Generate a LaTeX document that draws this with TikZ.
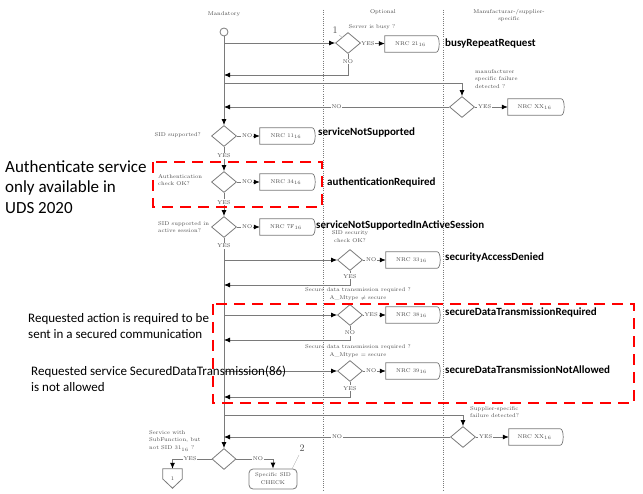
\documentclass[tikz,border=0pt]{standalone}
\usepackage{fontspec}
\newfontfamily\calib{Carlito}
\usetikzlibrary{shapes.geometric,arrows.meta,calc}
\definecolor{lg}{HTML}{7A7A7A}
\definecolor{tg}{HTML}{4A4A4A}
\definecolor{rd}{HTML}{FF0000}
\newcommand\nrcout[1]{\draw[draw=lg, line width=0.7pt] (#1.north west) -- (#1.north east) .. controls ([xshift=4pt]#1.north east) and ([xshift=4pt]#1.south east) .. (#1.south east) -- (#1.south west) -- cycle;}
\begin{document}
\begin{tikzpicture}[x=1pt,y=-1pt,
 ln/.style={draw=lg, line width=0.8pt},
 arr/.style={ln, -{Latex[length=6pt,width=5pt,color=black]}},
 dia/.style={diamond, draw=lg, line width=0.8pt, minimum width=25pt, minimum height=21pt, inner sep=0pt},
 nrc/.style={minimum width=51pt, minimum height=16pt, inner sep=0pt, font=\fontsize{5.5}{6}\selectfont, text=tg},
 sm/.style={font=\fontsize{5.5}{7.8}\selectfont, text=tg, inner sep=0pt},
 lab/.style={sm, fill=white, inner sep=0.8pt},
 big/.style={font=\calib\bfseries\fontsize{11}{13}\selectfont, anchor=west, inner sep=0pt},
 note/.style={font=\calib\fontsize{13}{16}\selectfont, anchor=north west, align=left, inner sep=0pt},
 redbox/.style={draw=rd, line width=2.6pt, dash pattern=on 11pt off 7pt},
 colline/.style={draw=lg, line width=0.6pt, dash pattern=on 1pt off 1.2pt},
 num/.style={font=\fontsize{10}{10}\selectfont, text=tg, inner sep=0pt},
]
\useasboundingbox (0,0) rectangle (643,494);
% column separators
\draw[colline] (323,10) -- (323,490);
\draw[colline] (443,10) -- (443,490);
% headers
\node[sm] (hm) at (224,14) {Mandatory};
\node[sm] (ho) at (383,12) {Optional};
\node[sm, align=center] (hs) at (509,15.5) {Manufacturar-/supplier-\\specific};
% start
\node[circle, draw=lg, line width=0.8pt, minimum size=8pt, inner sep=0pt] (start) at (224,32) {};
% server busy
\coordinate (m1) at (224,43);
\node[dia] (d1) at (348,43) {};
\node[nrc] (n21) at (410.5,44) {NRC 21$_{16}$};
\nrcout{n21}
\node[num] (one) at (335,30) {1};
\draw[lg!60, line width=0.4pt] (339,35) -- (343,38);
\node[sm] (t1) at (372,27) {Server is busy ?};
\draw[arr] (m1) -- (d1);
\draw[arr] (d1) -- node[lab, pos=0.3]{YES} (n21);
\node[big] (l1) at (445,44) {busyRepeatRequest};
\coordinate (c1) at (348,75);
\coordinate (m2) at (224,75);
\draw[arr] (d1.south) -- node[lab, pos=0.36]{NO} (c1) -- (m2);
% manufacturer specific
\coordinate (m3) at (224,83);
\coordinate (c2) at (462,83);
\node[dia] (d2) at (462,107) {};
\draw[arr] (m3) -- (c2) -- (d2.north);
\node[sm, align=left, anchor=north west] (t2) at (475,69) {manufacturer\\specific failure\\detected ?};
\node[nrc, minimum width=53pt] (nx1) at (534.5,107) {NRC XX$_{16}$};
\nrcout{nx1}
\draw[arr] (d2) -- node[lab, pos=0.3]{YES} (nx1);
\coordinate (m4) at (224,107);
\draw[arr] (d2) -- node[lab, pos=0.5]{NO} (m4);
% SID supported
\node[dia] (d3) at (224,136) {};
\draw[arr] (start) -- (d3);
\node[sm, anchor=east] (t3) at (201,135) {SID supported?};
\node[nrc, minimum width=52pt] (n11) at (286,136) {NRC 11$_{16}$};
\nrcout{n11}
\draw[arr] (d3) -- node[lab, pos=0.45]{NO} (n11);
\node[big] (l3) at (318,133) {serviceNotSupported};
% authentication
\node[dia] (d4) at (224,182) {};
\draw[arr] (d3) -- node[lab, pos=0.38]{YES} (d4);
\node[sm, align=left, anchor=west] (t4) at (158,180) {Authentication\\check OK?};
\node[nrc, minimum width=52pt] (n34) at (286,182) {NRC 34$_{16}$};
\nrcout{n34}
\draw[arr] (d4) -- node[lab, pos=0.45]{NO} (n34);
\node[big] (l4) at (327,182) {authenticationRequired};
% active session
\node[dia] (d5) at (224,227) {};
\draw[arr] (d4) -- node[lab, pos=0.4]{YES} (d5);
\node[sm, align=left, anchor=west] (t5) at (158,227) {SID supported in\\active session?};
\node[nrc, minimum width=52pt] (n7f) at (286,227) {NRC 7F$_{16}$};
\nrcout{n7f}
\draw[arr] (d5) -- node[lab, pos=0.45]{NO} (n7f);
\node[big] (l5) at (316,225) {serviceNotSupportedInActiveSession};
% main line to bottom
\node[dia, minimum width=24pt] (d10) at (224,459) {};
\draw[arr] (d5) -- (d10);
\node[lab] (y5) at (224,246) {YES};
% security
\coordinate (m5) at (224,260);
\node[dia] (d6) at (350,260) {};
\draw[arr] (m5) -- (d6);
\node[sm, align=center] (t6) at (350,237) {SID security\\check OK?};
\node[nrc] (n33) at (411.5,260) {NRC 33$_{16}$};
\nrcout{n33}
\draw[arr] (d6) -- node[lab, pos=0.36]{NO} (n33);
\node[big] (l6) at (445,258) {securityAccessDenied};
\coordinate (c3) at (350,285);
\coordinate (m6) at (224,285);
\draw[arr] (d6) -- node[lab, pos=0.38]{YES} (c3) -- (m6);
% secure required
\node[sm, align=center] (t7) at (358,294) {Secure data transmission required ?\\A\_Mtype $\neq$ secure};
\coordinate (m7) at (224,315);
\node[dia] (d7) at (350,315) {};
\draw[arr] (m7) -- (d7);
\node[nrc] (n38) at (411.5,315) {NRC 38$_{16}$};
\nrcout{n38}
\draw[arr] (d7) -- node[lab, pos=0.36]{YES} (n38);
\node[big] (l7) at (445,313) {secureDataTransmissionRequired};
\coordinate (c4) at (350,340);
\coordinate (m8) at (224,340);
\draw[arr] (d7) -- node[lab, pos=0.5]{NO} (c4) -- (m8);
% secure not allowed
\node[sm, align=center] (t8) at (358,351.5) {Secure data transmission required ?\\A\_Mtype = secure};
\coordinate (m9) at (224,371);
\node[dia] (d8) at (350,371) {};
\draw[arr] (m9) -- (d8);
\node[nrc] (n39) at (411.5,371) {NRC 39$_{16}$};
\nrcout{n39}
\draw[arr] (d8) -- node[lab, pos=0.36]{NO} (n39);
\node[big] (l8) at (445,370) {secureDataTransmissionNotAllowed};
\coordinate (c5) at (350,397);
\coordinate (m10) at (224,397);
\draw[arr] (d8) -- node[lab, pos=0.42]{YES} (c5) -- (m10);
% supplier specific
\coordinate (m11) at (224,415);
\coordinate (c6) at (463,415);
\node[dia] (d9) at (463,437) {};
\draw[arr] (m11) -- (c6) -- (d9.north);
\node[sm, align=left, anchor=north west] (t9) at (470,406) {Supplier-specific\\failure detected?};
\node[nrc] (nx2) at (534.5,437) {NRC XX$_{16}$};
\nrcout{nx2}
\draw[arr] (d9) -- node[lab, pos=0.3]{YES} (nx2);
\coordinate (m12) at (224,437);
\draw[arr] (d9) -- node[lab, pos=0.5]{NO} (m12);
% bottom decision
\node[sm, align=left, anchor=north west] (t10) at (149,430) {Service with\\SubFunction, but\\not SID 31$_{16}$ ?};
\node[sm, minimum width=19pt, minimum height=19pt] (p1) at (172.5,478.5) {1};
\draw[ln] (p1.north west) -- (p1.north east) -- ($(p1.east)+(0,0.5)$) -- (p1.south) -- ($(p1.west)+(0,0.5)$) -- cycle;
\coordinate (c7) at (172.5,459);
\draw[arr] (d10) -- node[lab, pos=0.55]{YES} (c7) -- (p1.north);
\node[sm, align=center, draw=lg, line width=0.8pt, rounded corners=4pt, minimum width=48pt, minimum height=20pt] (chk) at (273,479) {Specific SID\\CHECK};
\coordinate (c8) at (273,459);
\draw[arr] (d10) -- node[lab, pos=0.59]{NO} (c8) -- (chk);
\node[num] (two) at (302,448) {2};
\draw[lg!60, line width=0.4pt] (299,455) -- (292,469);
% red highlight boxes
\draw[redbox] (153,162) rectangle (322,207);
\draw[redbox] (213,304) rectangle (634,403);
% notes
\node[note, font=\calib\fontsize{17}{20.5}\selectfont] (a1) at (5,160) {Authenticate service\\only available in\\UDS 2020};
\node[note] (a2) at (28,313) {Requested action is required to be\\sent in a secured communication};
\node[note] (a3) at (31,366) {Requested service SecuredDataTransmission(86)\\is not allowed};
\end{tikzpicture}
\end{document}
